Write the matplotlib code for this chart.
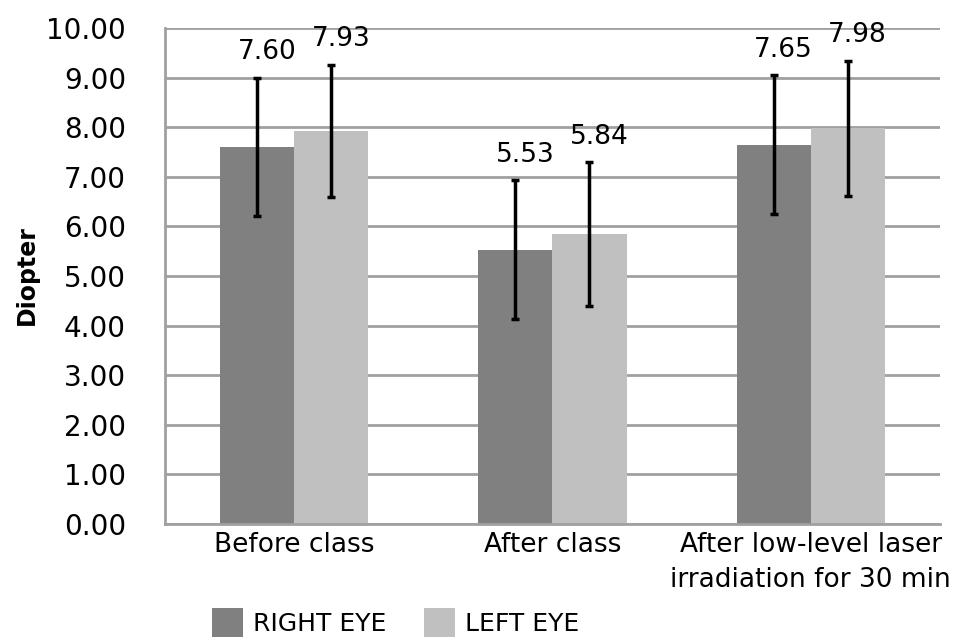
import numpy as np
import matplotlib
matplotlib.use("Agg")
import matplotlib.pyplot as plt
from matplotlib import font_manager

categories = ["Before class", "After class", "After low-level laser\nirradiation for 30 min"]
right_eye = [7.60, 5.53, 7.65]
left_eye = [7.93, 5.84, 7.98]
right_err = [1.40, 1.40, 1.40]
left_err = [1.33, 1.45, 1.36]
series_names = ["RIGHT EYE", "LEFT EYE"]
yticks = np.arange(0, 11, 1)

names = {f.name for f in font_manager.fontManager.ttflist}
narrow = "Liberation Sans Narrow" if "Liberation Sans Narrow" in names else "DejaVu Sans"

fig = plt.figure(figsize=(9.62, 6.37), dpi=100)
ax = fig.add_axes([0.1715, 0.1774, 0.8055, 0.7786])

x = np.arange(len(categories))
w = 0.287
b1 = ax.bar(x - w / 2, right_eye, w, color="#808080", zorder=2, label=series_names[0])
b2 = ax.bar(x + w / 2, left_eye, w, color="#c0c0c0", zorder=2, label=series_names[1])
ax.errorbar(x - w / 2, right_eye, yerr=right_err, fmt="none", ecolor="black",
            elinewidth=2.5, capsize=3, capthick=2.5, zorder=3)
ax.errorbar(x + w / 2, left_eye, yerr=left_err, fmt="none", ecolor="black",
            elinewidth=2.5, capsize=3, capthick=2.5, zorder=3)

for xs, vals, errs in [(x - w / 2, right_eye, right_err), (x + w / 2, left_eye, left_err)]:
    for xi, v, e in zip(xs, vals, errs):
        ax.annotate(f"{v:.2f}", (xi, v + e), xytext=(7, 9), textcoords="offset points",
                    ha="center", va="bottom", fontsize=19, color="black",
                    family="DejaVu Sans", annotation_clip=False)

ax.set_xlim(-0.5, 2.5)
ax.set_ylim(0, 10)
ax.set_yticks(yticks)
ax.set_yticklabels([f"{t:.2f}" for t in yticks], fontsize=20, family="DejaVu Sans")
ax.set_xticks(x)
ax.set_xticklabels(categories, fontsize=19, family=narrow, linespacing=1.45)
ax.tick_params(axis="y", length=0, pad=28)
ax.tick_params(axis="x", length=0, pad=6)
ax.yaxis.grid(True, color="#a0a0a0", linewidth=2, zorder=0)
ax.set_axisbelow(True)
for s in ["top", "right"]:
    ax.spines[s].set_visible(False)
for s in ["left", "bottom"]:
    ax.spines[s].set_color("#a0a0a0")
    ax.spines[s].set_linewidth(2)

fig.text(0.028, 0.568, "Diopter", rotation=90, ha="center", va="center",
         fontsize=17, fontweight="bold", family="DejaVu Sans")

fig.legend(handles=[b1, b2], loc="lower left", bbox_to_anchor=(0.207, -0.02),
           ncol=2, frameon=False, prop={"family": narrow, "size": 18},
           handlelength=1.25, handleheight=1.4, handletextpad=0.4, columnspacing=1.5,
           borderpad=0)

fig.savefig("out.png", dpi=100)
